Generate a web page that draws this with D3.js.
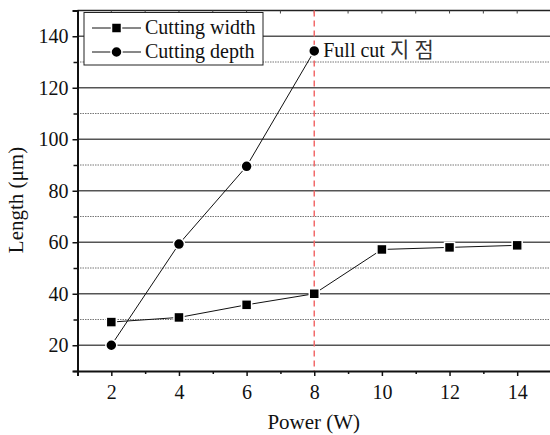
<!DOCTYPE html>
<html>
<head>
<meta charset="UTF-8">
<title>Cutting width / depth vs power</title>
<script src="https://d3js.org/d3.v7.min.js"></script>
<style>
  body { margin: 0; background: #fff; }
  svg text { font-family: "Liberation Serif", "Noto Sans CJK KR", serif; fill: #111; }
</style>
</head>
<body>
<svg id="chart" width="550" height="435"></svg>
<script>
var power = [2, 4, 6, 8, 10, 12, 14];
var cuttingWidth = [29, 30.8, 35.7, 40, 57.2, 58, 58.8];
var powerDepth = [2, 4, 6, 8];
var cuttingDepth = [20, 59.3, 89.5, 134.3];
var xTicks = [2, 4, 6, 8, 10, 12, 14];
var yTicks = [20, 40, 60, 80, 100, 120, 140];
var fullCutPower = 8;

var svg = d3.select('#chart');
// plot box (note: "top" is reserved on window, so use pl/pr/pt/pb)
var pl = 77.5, pr = 551, pt = 10.5, pb = 371;

var x = d3.scaleLinear().domain([1, 15]).range([pl, pr]);
var y = d3.scaleLinear().domain([10, 150]).range([pb, pt]);

// grid lines
var minorY = d3.range(30, 150, 20);
svg.append('g').selectAll('line')
  .data(minorY).enter().append('line')
  .attr('x1', pl).attr('x2', 550)
  .attr('y1', function(d) { return y(d); }).attr('y2', function(d) { return y(d); })
  .attr('stroke', '#777').attr('stroke-width', 1).attr('stroke-dasharray', '1.5,1');

svg.append('g').selectAll('line')
  .data(yTicks).enter().append('line')
  .attr('x1', pl).attr('x2', 550)
  .attr('y1', function(d) { return y(d); }).attr('y2', function(d) { return y(d); })
  .attr('stroke', '#555').attr('stroke-width', 1.5);

// top border with small inner ticks
svg.append('line').attr('x1', pl).attr('x2', 550).attr('y1', pt).attr('y2', pt)
  .attr('stroke', '#222').attr('stroke-width', 1.5);
svg.append('g').selectAll('line')
  .data(d3.range(2, 16)).enter().append('line')
  .attr('x1', function(d) { return x(d); }).attr('x2', function(d) { return x(d); })
  .attr('y1', pt).attr('y2', pt + 3)
  .attr('stroke', '#444').attr('stroke-width', 1);

// full cut marker line
svg.append('line')
  .attr('x1', x(fullCutPower)).attr('x2', x(fullCutPower))
  .attr('y1', pt).attr('y2', pb)
  .attr('stroke', '#f26b6b').attr('stroke-width', 1.5).attr('stroke-dasharray', '6,4');

// axes
svg.append('g').attr('transform', 'translate(0,' + pb + ')')
  .call(d3.axisBottom(x).tickValues(xTicks).tickSize(5).tickPadding(9).tickFormat(d3.format('d')));
svg.append('g').attr('transform', 'translate(0,' + pb + ')')
  .call(d3.axisBottom(x).tickValues(d3.range(1, 15, 2)).tickSize(3).tickFormat(''))
  .select('.domain').remove();
svg.append('g').attr('transform', 'translate(' + pl + ',0)')
  .call(d3.axisLeft(y).tickValues(yTicks).tickSize(5).tickPadding(4).tickFormat(d3.format('d')));
svg.append('g').attr('transform', 'translate(' + pl + ',0)')
  .call(d3.axisLeft(y).tickValues(d3.range(10, 150, 20)).tickSize(4).tickFormat(''))
  .select('.domain').remove();

svg.selectAll('.domain').attr('stroke', '#111').attr('stroke-width', 2);
svg.selectAll('.tick line').attr('stroke', '#111').attr('stroke-width', 1.5);
svg.selectAll('.tick text').style('font-size', '20px').attr('fill', '#111');

// axis titles
svg.append('text').attr('x', (pl + 550) / 2).attr('y', 429)
  .attr('text-anchor', 'middle').style('font-size', '21px').text('Power (W)');
svg.append('text').attr('transform', 'translate(16,200) rotate(-90)')
  .attr('text-anchor', 'middle').attr('dominant-baseline', 'central')
  .style('font-size', '21px').text('Length (\u03bcm)');

// series lines
var line = d3.line().x(function(d) { return x(d[0]); }).y(function(d) { return y(d[1]); });
var widthPts = d3.zip(power, cuttingWidth);
var depthPts = d3.zip(powerDepth, cuttingDepth);

svg.append('path').datum(widthPts).attr('d', line)
  .attr('fill', 'none').attr('stroke', '#111').attr('stroke-width', 1);
svg.append('path').datum(depthPts).attr('d', line)
  .attr('fill', 'none').attr('stroke', '#111').attr('stroke-width', 1);

// markers
var sq = 10;
svg.append('g').selectAll('rect')
  .data(widthPts).enter().append('rect')
  .attr('x', function(d) { return x(d[0]) - sq / 2; })
  .attr('y', function(d) { return y(d[1]) - sq / 2; })
  .attr('width', sq).attr('height', sq)
  .attr('fill', '#000').attr('stroke', '#fff').attr('stroke-width', 1.5);
svg.append('g').selectAll('circle')
  .data(depthPts).enter().append('circle')
  .attr('cx', function(d) { return x(d[0]); })
  .attr('cy', function(d) { return y(d[1]); })
  .attr('r', 5.5)
  .attr('fill', '#000').attr('stroke', '#fff').attr('stroke-width', 1.5);

// annotation
var note = svg.append('text')
  .attr('x', x(fullCutPower) + 9).attr('y', y(cuttingDepth[3]) + 6)
  .style('font-size', '20px');
note.append('tspan').text('Full cut ');
note.append('tspan').attr('fill', '#333').style('font-size', '21px').text('\uc9c0 \uc810');

// legend
var lg = svg.append('g');
lg.append('rect').attr('x', 84).attr('y', 12.5).attr('width', 179).attr('height', 52.5)
  .attr('fill', '#fff').attr('stroke', '#222').attr('stroke-width', 1);
[['Cutting width', 'square', 28], ['Cutting depth', 'circle', 52]].forEach(function(it) {
  var cy = it[2];
  lg.append('line').attr('x1', 92).attr('x2', 141).attr('y1', cy).attr('y2', cy)
    .attr('stroke', '#111').attr('stroke-width', 1);
  if (it[1] === 'square') {
    lg.append('rect').attr('x', 116.5 - 5).attr('y', cy - 5).attr('width', 10).attr('height', 10)
      .attr('fill', '#000').attr('stroke', '#fff').attr('stroke-width', 1.5);
  } else {
    lg.append('circle').attr('cx', 116.5).attr('cy', cy).attr('r', 5.5)
      .attr('fill', '#000').attr('stroke', '#fff').attr('stroke-width', 1.5);
  }
  lg.append('text').attr('x', 145).attr('y', cy + 6).style('font-size', '20px').text(it[0]);
});
</script>
</body>
</html>
